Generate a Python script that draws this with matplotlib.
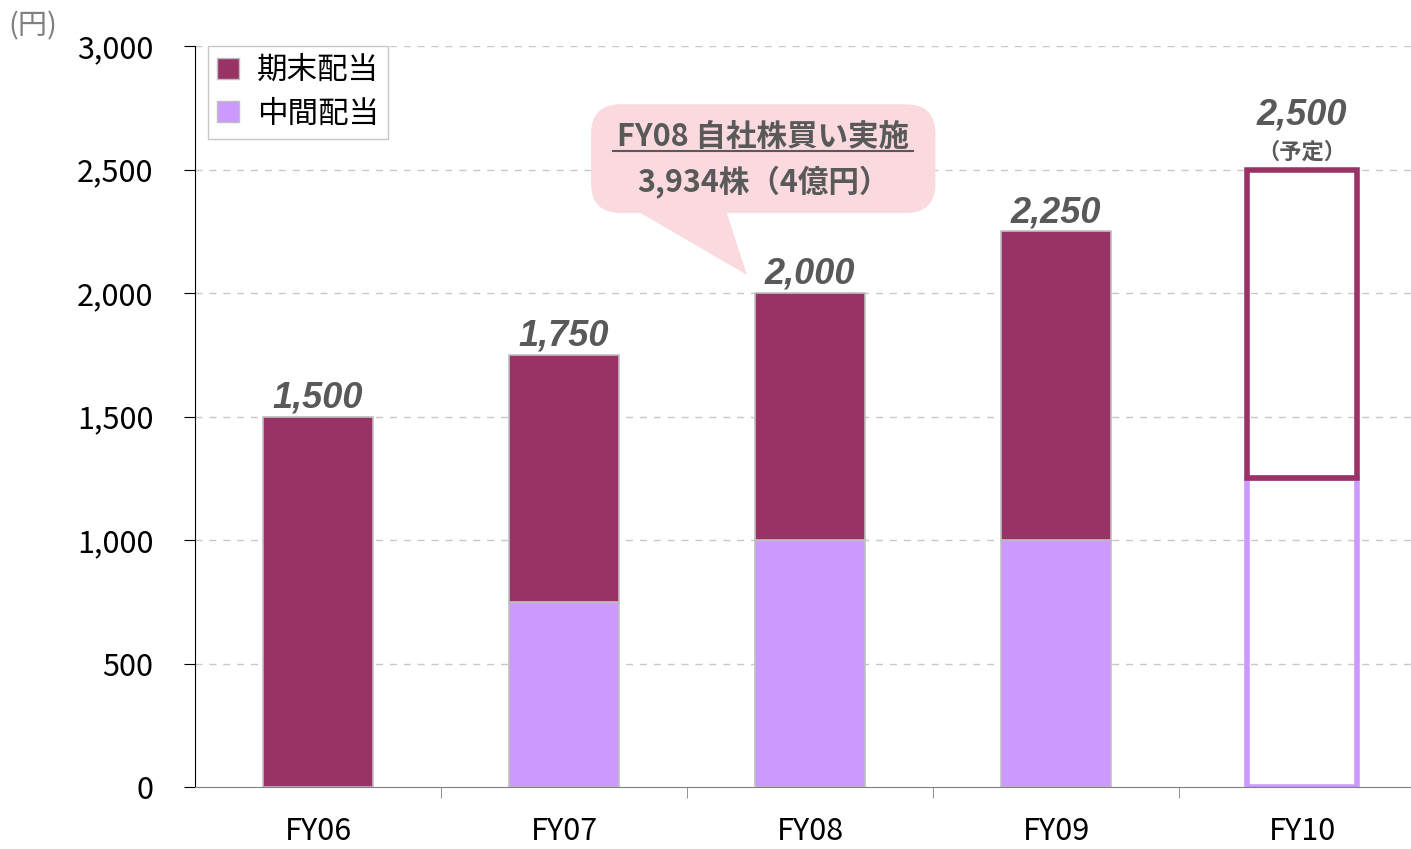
import numpy as np
import matplotlib
matplotlib.use('Agg')
import matplotlib.pyplot as plt
from matplotlib.patches import Patch, FancyBboxPatch, Polygon

plt.rcParams['font.family'] = ['Noto Sans CJK JP', 'DejaVu Sans']

years = ['FY06', 'FY07', 'FY08', 'FY09', 'FY10']
interim = [0, 750, 1000, 1000, 1250]
year_end = [1500, 1000, 1000, 1250, 1250]
planned = [False, False, False, False, True]
yticks = [0, 500, 1000, 1500, 2000, 2500, 3000]

MAROON = '#993366'
LILAC = '#CC99FF'
GREY_TXT = '#595959'

fig = plt.figure(figsize=(14.11, 8.49), dpi=100)
ax = fig.add_axes([195/1411, 1 - 787/849, 1230/1411, 741/849])

x = np.arange(len(years))
w = 0.45
totals = [a + b for a, b in zip(interim, year_end)]
for i in range(len(years)):
    if planned[i]:
        ax.bar(x[i], interim[i], w, fill=False, edgecolor=LILAC, lw=4, zorder=3)
        ax.bar(x[i], year_end[i], w, bottom=interim[i], fill=False,
               edgecolor=MAROON, lw=4, zorder=4)
    else:
        ax.bar(x[i], interim[i], w, color=LILAC, edgecolor='#BFBFBF', lw=1.2, zorder=3)
        ax.bar(x[i], year_end[i], w, bottom=interim[i], color=MAROON,
               edgecolor='#BFBFBF', lw=1.2, zorder=3)

for i, t in enumerate(totals):
    if planned[i]:
        ax.text(x[i], t + 150, f'{t:,}', ha='center', va='bottom', fontsize=26,
                family='Liberation Sans', fontweight='bold', style='italic', color=GREY_TXT)
        ax.text(x[i], t + 25, '（予定）', ha='center', va='bottom', fontsize=16,
                fontweight='bold', color=GREY_TXT)
    else:
        ax.text(x[i], t + 5, f'{t:,}', ha='center', va='bottom', fontsize=26,
                family='Liberation Sans', fontweight='bold', style='italic', color=GREY_TXT)

ax.set_xlim(-0.5, 4.5)
ax.set_ylim(0, 3000)
ax.set_yticks(yticks)
ax.set_yticklabels([f'{v:,}' for v in yticks], fontsize=22)
ax.set_xticks(x)
ax.set_xticklabels(years, fontsize=22)
ax.set_xticks(x[:-1] + 0.5, minor=True)
ax.tick_params(axis='x', which='major', length=0, pad=21)
ax.tick_params(axis='x', which='minor', length=8, color='#808080')
ax.tick_params(axis='y', length=8, pad=22)
for v in yticks[1:]:
    ax.axhline(v, color='#C8C8C8', lw=1, ls=(0, (5, 5)), zorder=1)
for s in ['top', 'right']:
    ax.spines[s].set_visible(False)
ax.spines['bottom'].set_color('#808080')
ax.spines['bottom'].set_zorder(5)

handles = [Patch(facecolor=MAROON, edgecolor='#BFBFBF', label='期末配当'),
           Patch(facecolor=LILAC, edgecolor='#BFBFBF', label='中間配当')]
leg = ax.legend(handles=handles, loc='upper left', bbox_to_anchor=(13/1230, 1.0),
                borderaxespad=0, fancybox=False, edgecolor='#C8C8C8', fontsize=22,
                handlelength=0.7, handleheight=0.7, handletextpad=0.6,
                labelspacing=0.4, borderpad=0.3, framealpha=1)
leg.get_frame().set_linewidth(1)

# callout
PINK = '#FADADF'
aspect = (3000 / 741) / (5 / 1230)
box = FancyBboxPatch((1.11, 2324), 1.40, 440,
                     boxstyle='round,pad=0,rounding_size=0.12',
                     mutation_aspect=aspect, fc=PINK, ec='none', zorder=5)
ax.add_patch(box)
tri = Polygon([(1.30, 2330), (1.66, 2330), (1.744, 2073)], closed=True,
              fc=PINK, ec='none', zorder=5)
ax.add_patch(tri)
ax.text(1.81, 2630, 'FY08 自社株買い実施', ha='center', va='center', fontsize=22,
        fontweight='bold', color=GREY_TXT, zorder=6)
ax.plot([1.20, 2.42], [2575, 2575], color=GREY_TXT, lw=1.5, zorder=6)
ax.text(1.81, 2445, '3,934株（4億円）', ha='center', va='center', fontsize=22,
        fontweight='bold', color=GREY_TXT, zorder=6)

fig.text(8/1411, 1 - 26/849, '(円)', ha='left', va='center', fontsize=21,
         color='#808080')

fig.savefig('out.png', dpi=100)
